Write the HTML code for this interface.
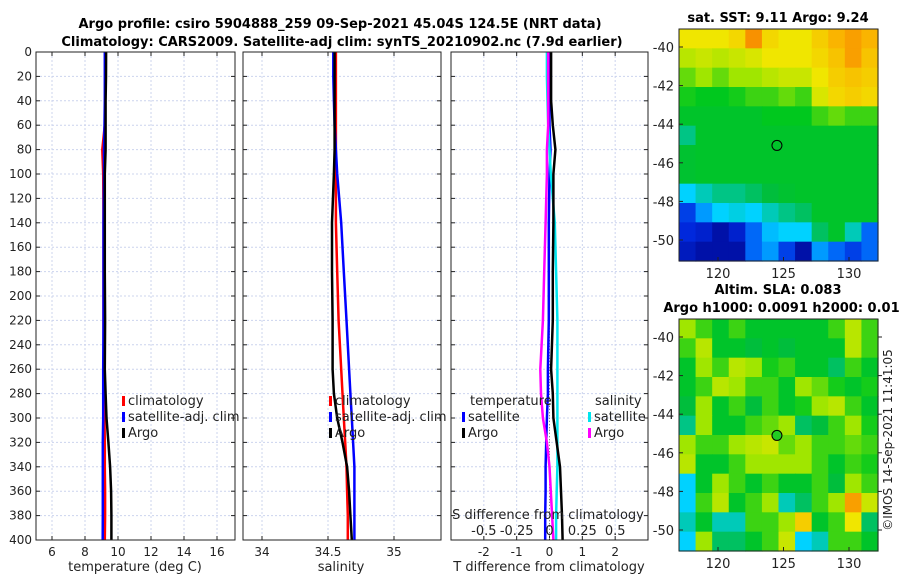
<!DOCTYPE html>
<html><head><meta charset="utf-8"><style>
body{margin:0;background:#fff;}
svg{display:block;font-family:"DejaVu Sans","Liberation Sans",sans-serif;}
</style></head><body>
<svg id="chart" width="900" height="580" viewBox="0 0 900 580" xmlns="http://www.w3.org/2000/svg">
<text x="340" y="28" font-size="13" font-weight="bold" text-anchor="middle">Argo profile: csiro 5904888_259 09-Sep-2021 45.04S 124.5E (NRT data)</text>
<text x="342" y="46" font-size="13" font-weight="bold" text-anchor="middle">Climatology: CARS2009. Satellite-adj clim: synTS_20210902.nc (7.9d earlier)</text>
<text x="778" y="22" font-size="13" font-weight="bold" text-anchor="middle">sat. SST: 9.11 Argo: 9.24</text>
<text x="778" y="294" font-size="13" font-weight="bold" text-anchor="middle">Altim. SLA: 0.083</text>
<text x="786" y="312" font-size="13" font-weight="bold" text-anchor="middle">Argo h1000: 0.0091 h2000: 0.017</text>
<text transform="translate(892,440) rotate(-90)" font-size="12" text-anchor="middle" fill="#222">©IMOS 14-Sep-2021 11:41:05</text>
<g id="g"></g>
</svg>
<script>
const depth = [0,20,40,60,80,100,140,180,220,260,280,300,320,340,360,380,400];
const tClim = [9.25,9.25,9.22,9.2,9.05,9.1,9.12,9.12,9.12,9.15,9.15,9.18,9.2,9.2,9.22,9.22,9.2];
const tSat  = [9.2,9.2,9.2,9.18,9.15,9.15,9.12,9.12,9.12,9.1,9.1,9.1,9.08,9.08,9.08,9.08,9.07];
const tArgo = [9.28,9.27,9.25,9.25,9.25,9.2,9.2,9.2,9.22,9.2,9.25,9.3,9.42,9.52,9.58,9.6,9.6];
const sClim = [34.56,34.56,34.56,34.56,34.56,34.56,34.56,34.57,34.58,34.6,34.61,34.62,34.63,34.64,34.645,34.65,34.65];
const sSat  = [34.54,34.54,34.545,34.55,34.56,34.57,34.6,34.62,34.64,34.66,34.67,34.68,34.69,34.7,34.7,34.7,34.7];
const sArgo = [34.55,34.55,34.55,34.55,34.55,34.545,34.53,34.53,34.535,34.535,34.545,34.57,34.61,34.645,34.66,34.67,34.68];
const tdSat  = [0,0,0,0,0.03,0,-0.02,-0.02,-0.02,-0.05,-0.05,-0.08,-0.1,-0.12,-0.12,-0.13,-0.13];
const tdArgo = [0.05,0.05,0.05,0.1,0.18,0.12,0.12,0.1,0.1,0.05,0.1,0.12,0.22,0.32,0.35,0.38,0.4];
const sdSat  = [-0.02,-0.02,-0.015,-0.01,0,0.01,0.04,0.05,0.06,0.06,0.06,0.06,0.06,0.06,0.055,0.05,0.05];
const sdArgo = [-0.01,-0.01,-0.01,-0.01,-0.02,-0.02,-0.03,-0.04,-0.05,-0.07,-0.065,-0.05,-0.02,0,0.01,0.02,0.03];
const depthTicks = [0,20,40,60,80,100,120,140,160,180,200,220,240,260,280,300,320,340,360,380,400];
const tTicks = [6,8,10,12,14,16];
const sTicks = [34,34.5,35];
const sTickLabels = ['34','34.5','35'];
const tdTicks = [-2,-1,0,1,2];
const sdTicks = [-0.5,-0.25,0,0.25,0.5];
const sdTickLabels = ['-0.5','-0.25','0','0.25','0.5'];
const lonTicks = [120,125,130];
const latTicks = [-40,-42,-44,-46,-48,-50];
const sstGrid = [
[.65,.65,.65,.68,.8,.68,.65,.65,.7,.75,.78,.75],
[.58,.6,.58,.6,.62,.65,.65,.65,.68,.72,.78,.72],
[.52,.55,.52,.55,.55,.58,.6,.6,.65,.7,.72,.7],
[.48,.47,.47,.48,.5,.5,.52,.5,.62,.68,.7,.68],
[.45,.45,.45,.45,.45,.47,.47,.47,.5,.52,.5,.5],
[.38,.45,.45,.45,.45,.45,.45,.45,.45,.45,.45,.45],
[.44,.45,.45,.45,.45,.45,.45,.45,.45,.45,.45,.45],
[.44,.45,.45,.45,.45,.45,.45,.45,.45,.45,.45,.45],
[.3,.35,.38,.38,.4,.42,.44,.45,.45,.45,.45,.45],
[.15,.25,.3,.32,.3,.35,.38,.4,.45,.45,.45,.45],
[.12,.1,.05,.1,.2,.28,.3,.3,.4,.45,.35,.2],
[.08,.05,.05,.05,.2,.25,.15,.05,.25,.2,.15,.2]];
const slaGrid = [
[.55,.5,.45,.5,.45,.45,.45,.45,.45,.5,.58,.5],
[.5,.58,.45,.45,.42,.45,.42,.45,.45,.45,.58,.5],
[.45,.55,.5,.58,.55,.48,.5,.45,.45,.4,.5,.45],
[.45,.5,.58,.55,.5,.5,.45,.55,.52,.48,.45,.48],
[.42,.55,.45,.5,.42,.5,.45,.48,.55,.58,.5,.45],
[.38,.55,.45,.45,.5,.52,.55,.4,.42,.5,.55,.48],
[.55,.5,.5,.55,.58,.6,.52,.55,.5,.5,.52,.5],
[.58,.45,.45,.5,.55,.55,.55,.55,.5,.45,.5,.48],
[.3,.45,.55,.5,.45,.5,.45,.45,.5,.42,.55,.5],
[.3,.5,.58,.45,.5,.55,.35,.4,.5,.55,.78,.6],
[.35,.45,.35,.35,.5,.5,.55,.7,.45,.5,.65,.4],
[.3,.55,.4,.4,.45,.5,.6,.3,.35,.5,.5,.45]];
const argoLon = 124.5, argoLat = -45.1;

const NS='http://www.w3.org/2000/svg';
const G=document.getElementById('g');
function el(tag,attrs,parent){const e=document.createElementNS(NS,tag);for(const k in attrs)e.setAttribute(k,attrs[k]);(parent||G).appendChild(e);return e;}
function txt(x,y,s,attrs){const e=el('text',Object.assign({x:x,y:y,'font-size':12,fill:'#222'},attrs||{}));e.textContent=s;return e;}

const PT=52, PB=540;
const yD=d=>PT+(d/400)*(PB-PT);
function lin(d0,d1,r0,r1){return v=>r0+(v-d0)/(d1-d0)*(r1-r0);}

function panel(name,x0,x1,xs,ticks,labels,showY){
  const g=el('g',{});
  
  
  ticks.forEach(t=>{const l=el('line',{x1:xs(t),x2:xs(t),y1:PT,y2:PB,stroke:'#ccd4ee','stroke-dasharray':'2,2','stroke-width':1},g);
    });
  depthTicks.forEach(d=>{const l=el('line',{x1:x0,x2:x1,y1:yD(d),y2:yD(d),stroke:'#ccd4ee','stroke-dasharray':'2,2','stroke-width':1},g);
    
    el('line',{x1:x0,x2:x0+4,y1:yD(d),y2:yD(d),stroke:'#222'},g);el('line',{x1:x1-4,x2:x1,y1:yD(d),y2:yD(d),stroke:'#222'},g);
    if(showY){const t=txt(x0-4,yD(d)+4,String(d),{'text-anchor':'end'});}});
  ticks.forEach((t,i)=>{el('line',{x1:xs(t),x2:xs(t),y1:PB,y2:PB-4,stroke:'#222'},g);el('line',{x1:xs(t),x2:xs(t),y1:PT,y2:PT+4,stroke:'#222'},g);
    if(labels){const e=txt(xs(t),PB+16,labels[i],{'text-anchor':'middle'});}});
  return g;
}
function frame(x0,x1,y0,y1,name){const r=el('rect',{x:x0,y:y0,width:x1-x0,height:y1-y0,fill:'none',stroke:'#222','stroke-width':1});}
function line(xs,vals,color,w,name,dash){const pts=vals.map((v,i)=>xs(v).toFixed(1)+','+yD(depth[i]).toFixed(1)).join(' ');
  const p=el('polyline',{points:pts,fill:'none',stroke:color,'stroke-width':w});if(dash)p.setAttribute('stroke-dasharray',dash);
  }
function legend(x,y,color,label,name){const r=el('rect',{x:x,y:y-9,width:3,height:10,fill:color});
  const t=txt(x+6,y,label,{'font-size':13});}

const xT=lin(5.03,17.09,36,235);
panel('temperature-panel',36,235,xT,tTicks,tTicks.map(String),true);
line(xT,tClim,'#ff0000',2.5,'temperature-climatology-line');
line(xT,tSat,'#0000ff',2.5,'temperature-satellite-line');
line(xT,tArgo,'#000',2.5,'temperature-argo-line');
frame(36,235,PT,PB,'temperature-axes');
legend(122,405,'#ff0000','climatology','legend-climatology');
legend(122,421,'#0000ff','satellite-adj. clim','legend-satellite');
legend(122,437,'#000','Argo','legend-argo');
{const t=txt(135,571,'temperature (deg C)',{'text-anchor':'middle','font-size':13});}

const xS=lin(33.856,35.356,243,441);
panel('salinity-panel',243,441,xS,sTicks,sTickLabels,false);
line(xS,sClim,'#ff0000',2.5,'salinity-climatology-line');
line(xS,sSat,'#0000ff',2.5,'salinity-satellite-line');
line(xS,sArgo,'#000',2.5,'salinity-argo-line');
frame(243,441,PT,PB,'salinity-axes');
legend(329,405,'#ff0000','climatology','legend2-climatology');
legend(329,421,'#0000ff','satellite-adj. clim','legend2-satellite');
legend(329,437,'#000','Argo','legend2-argo');
{const t=txt(341,571,'salinity',{'text-anchor':'middle','font-size':13});}

const xTD=lin(-3,3,451,648);
const xSD=lin(-0.75,0.75,451,648);
panel('difference-panel',451,648,xTD,tdTicks,tdTicks.map(String),false);
{const z=el('line',{x1:xTD(0),x2:xTD(0),y1:PT,y2:PB,stroke:'#888','stroke-dasharray':'1,2'});}
line(xTD,tdSat,'#0000ff',2.5,'tdiff-satellite-line');
line(xSD,sdSat,'#00e5ee',2.5,'sdiff-satellite-line');
line(xSD,sdArgo,'#ff00ff',2.5,'sdiff-argo-line');
line(xTD,tdArgo,'#000',2.5,'tdiff-argo-line');
frame(451,648,PT,PB,'difference-axes');
{const t=txt(470,405,'temperature',{'font-size':13});}
legend(462,421,'#0000ff','satellite','legend-tdiff-satellite');
legend(462,437,'#000','Argo','legend-tdiff-argo');
{const t=txt(595,405,'salinity',{'font-size':13});}
legend(588,421,'#00e5ee','satellite','legend-sdiff-satellite');
legend(588,437,'#ff00ff','Argo','legend-sdiff-argo');
{const t=txt(548,519,'S difference from climatology',{'text-anchor':'middle','font-size':13});}
sdTicks.forEach((v,i)=>{const t=txt(xSD(v),535,sdTickLabels[i],{'text-anchor':'middle','font-size':13});});
{const t=txt(549,571,'T difference from climatology',{'text-anchor':'middle','font-size':13});}

const cmapStops=[[0,[0,0,130]],[0.12,[0,40,220]],[0.22,[0,120,255]],[0.3,[0,210,255]],[0.36,[0,200,170]],[0.42,[0,190,60]],[0.47,[0,200,30]],[0.55,[160,230,0]],[0.65,[240,230,0]],[0.75,[250,180,0]],[0.85,[245,110,0]],[1,[200,40,0]]];
function cmap(v){v=Math.max(0,Math.min(1,v));
  for(let i=1;i<cmapStops.length;i++){const a=cmapStops[i-1],b=cmapStops[i];if(v<=b[0]){const f=(v-a[0])/(b[0]-a[0]);
    return 'rgb('+a[1].map((c,k)=>Math.round(c+f*(b[1][k]-c))).join(',')+')';}}
  return 'rgb(200,40,0)';}
function map(name,grid,y0,y1,lat40y,lat50y,filled,tickRight){
  const x0=679,x1=878;
  const xL=lin(120,130,718,849);const yL=lin(-40,-50,lat40y,lat50y);
  const gr=el('g',{});
  const rows=grid.length,cols=grid[0].length,cw=(x1-x0)/cols,rh=(y1-y0)/rows;
  grid.forEach((row,i)=>row.forEach((v,j)=>{const c=el('rect',{x:(x0+j*cw).toFixed(2),y:(y0+i*rh).toFixed(2),width:(cw+0.6).toFixed(2),height:(rh+0.6).toFixed(2),fill:cmap(v)},gr);
    }));
  frame(x0,x1,y0,y1,name+'-frame');
  lonTicks.forEach(l=>{el('line',{x1:xL(l),x2:xL(l),y1:y1,y2:y1-4,stroke:'#222'});const t=txt(xL(l),y1+17,String(l),{'text-anchor':'middle','font-size':13});});
  latTicks.forEach(l=>{el('line',{x1:x0,x2:x0+4,y1:yL(l),y2:yL(l),stroke:'#222'});if(tickRight)el('line',{x1:x1,x2:x1+4,y1:yL(l),y2:yL(l),stroke:'#222'});
    const t=txt(x0-5,yL(l)+5,String(l),{'text-anchor':'end','font-size':13});});
  const m=el('circle',{cx:xL(argoLon),cy:yL(argoLat),r:5,fill:filled?'#22cc22':'none',stroke:'#000','stroke-width':1});
  
}
map('sst-map',sstGrid,29,261,47,240,false,false);
map('sla-map',slaGrid,319,551,337,530,true,true);
</script>
</body></html>
